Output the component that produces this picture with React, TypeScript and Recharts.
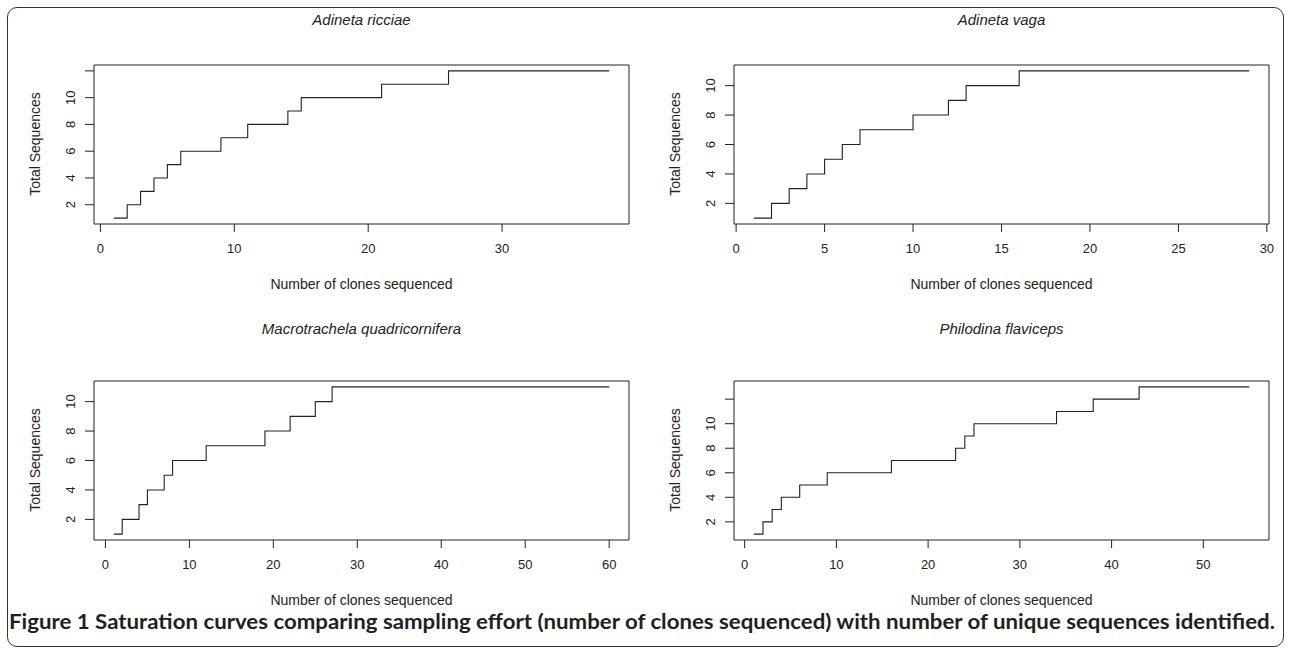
import React from "react";
import { LineChart, Line, XAxis, YAxis, ReferenceArea } from "recharts";

// step points (clone number where a new sequence appears)
const ricciaeX = [1, 2, 3, 4, 5, 6, 9, 11, 14, 15, 21, 26, 38];
const ricciaeY = [1, 2, 3, 4, 5, 6, 7, 8, 9, 10, 11, 12, 12];

const vagaX = [1, 2, 3, 4, 5, 6, 7, 10, 12, 13, 16, 29];
const vagaY = [1, 2, 3, 4, 5, 6, 7, 8, 9, 10, 11, 11];

const macroX = [1, 2, 4, 5, 7, 8, 12, 19, 22, 25, 27, 60];
const macroY = [1, 2, 3, 4, 5, 6, 7, 8, 9, 10, 11, 11];

const philoX = [1, 2, 3, 4, 6, 9, 16, 23, 24, 25, 34, 38, 43, 55];
const philoY = [1, 2, 3, 4, 5, 6, 7, 8, 9, 10, 11, 12, 13, 13];

const ricciaeXTicks = [0, 10, 20, 30];
const vagaXTicks = [0, 5, 10, 15, 20, 25, 30];
const macroXTicks = [0, 10, 20, 30, 40, 50, 60];
const philoXTicks = [0, 10, 20, 30, 40, 50];

const yTicksTo12 = [2, 4, 6, 8, 10, 12];
const yTicksTo10 = [2, 4, 6, 8, 10];
const yLabelled = [2, 4, 6, 8, 10];

const xTitle = "Number of clones sequenced";
const yTitle = "Total Sequences";
const caption =
  "Figure 1 Saturation curves comparing sampling effort (number of clones sequenced) with number of unique sequences identified.";

const FONT = "'Liberation Sans', Arial, sans-serif";
const INK = "#222";

// R's default axis style: data range widened by 4% each side
const rDomain = (v: number[]): [number, number] => {
  const lo = Math.min(...v);
  const hi = Math.max(...v);
  const d = (hi - lo) * 0.04;
  return [lo - d, hi + d];
};

const YTick = (props: any) => {
  const { x, y, payload } = props;
  if (!yLabelled.includes(payload.value)) return null;
  return (
    <text
      x={x}
      y={y}
      transform={`rotate(-90 ${x} ${y})`}
      textAnchor="middle"
      fontSize={13}
      fontFamily={FONT}
      fill={INK}
    >
      {payload.value}
    </text>
  );
};

type PanelProps = {
  title: string;
  xs: number[];
  ys: number[];
  xTicks: number[];
  yTicks: number[];
  left: number;
  top: number;
  titleY: number;
};

const Panel = ({ title, xs, ys, xTicks, yTicks, left, top, titleY }: PanelProps) => {
  const data = xs.map((x, i) => ({ x, y: ys[i] }));
  const xd = rDomain(xs);
  const yd = rDomain(ys);
  return (
    <div style={{ position: "absolute", left, top, width: 650, height: 300 }}>
      <div
        style={{
          position: "absolute",
          left: 94,
          width: 535,
          top: titleY - 9,
          textAlign: "center",
          fontStyle: "italic",
          fontSize: 15,
          fontFamily: FONT,
          color: INK,
          lineHeight: "18px",
        }}
      >
        {title}
      </div>
      <div
        style={{
          position: "absolute",
          left: 94,
          width: 535,
          top: 276,
          textAlign: "center",
          fontSize: 14,
          fontFamily: FONT,
          color: INK,
          lineHeight: "16px",
        }}
      >
        {xTitle}
      </div>
      <div
        style={{
          position: "absolute",
          left: 35 - 80,
          top: 144 - 9,
          width: 160,
          textAlign: "center",
          fontSize: 14,
          fontFamily: FONT,
          color: INK,
          lineHeight: "18px",
          transform: "rotate(-90deg)",
        }}
      >
        {yTitle}
      </div>
      <div style={{ position: "absolute", left: 0, top: 0 }}>
        <LineChart
          width={650}
          height={300}
          data={data}
          margin={{ top: 65, right: 21, bottom: 36, left: 34 }}
        >
          <XAxis
            dataKey="x"
            type="number"
            domain={xd}
            ticks={xTicks}
            interval={0}
            allowDataOverflow
            axisLine={false}
            tickSize={8}
            tickMargin={12}
            height={40}
            tickLine={{ stroke: INK }}
            tick={{ fill: INK, fontSize: 13, fontFamily: FONT }}
          />
          <YAxis
            type="number"
            domain={yd}
            ticks={yTicks}
            interval={0}
            allowDataOverflow
            width={60}
            axisLine={false}
            tickSize={9}
            tickMargin={10}
            tickLine={{ stroke: INK }}
            tick={<YTick />}
          />
          <ReferenceArea
            x1={xd[0]}
            x2={xd[1]}
            y1={yd[0]}
            y2={yd[1]}
            fill="none"
            fillOpacity={0}
            stroke={INK}
            strokeWidth={1}
          />
          <Line
            type="stepAfter"
            dataKey="y"
            stroke={INK}
            strokeWidth={1.1}
            dot={false}
            isAnimationActive={false}
          />
        </LineChart>
      </div>
    </div>
  );
};

export default function App() {
  return (
    <div
      style={{
        position: "absolute",
        left: 0,
        top: 0,
        width: 1292,
        height: 651,
        background: "#fff",
        overflow: "hidden",
      }}
    >
      <div
        style={{
          position: "absolute",
          left: 7,
          top: 7,
          width: 1277,
          height: 640,
          border: "1.5px solid #333",
          borderRadius: 10,
          boxSizing: "border-box",
        }}
      />
      <Panel title="Adineta ricciae" xs={ricciaeX} ys={ricciaeY} xTicks={ricciaeXTicks} yTicks={yTicksTo12} left={0} top={0} titleY={20} />
      <Panel title="Adineta vaga" xs={vagaX} ys={vagaY} xTicks={vagaXTicks} yTicks={yTicksTo10} left={640} top={0} titleY={20} />
      <Panel title="Macrotrachela quadricornifera" xs={macroX} ys={macroY} xTicks={macroXTicks} yTicks={yTicksTo10} left={0} top={316} titleY={13} />
      <Panel title="Philodina flaviceps" xs={philoX} ys={philoY} xTicks={philoXTicks} yTicks={yTicksTo12} left={640} top={316} titleY={13} />
      <svg style={{ position: "absolute", left: 0, top: 600 }} width={1292} height={45}>
        <text
          x={9}
          y={29}
          fontSize={20}
          fontWeight="bold"
          fontFamily="Lato, 'Open Sans', sans-serif"
          fill="#231f20"
          textLength={1266}
          lengthAdjust="spacingAndGlyphs"
        >
          {caption}
        </text>
      </svg>
    </div>
  );
}
